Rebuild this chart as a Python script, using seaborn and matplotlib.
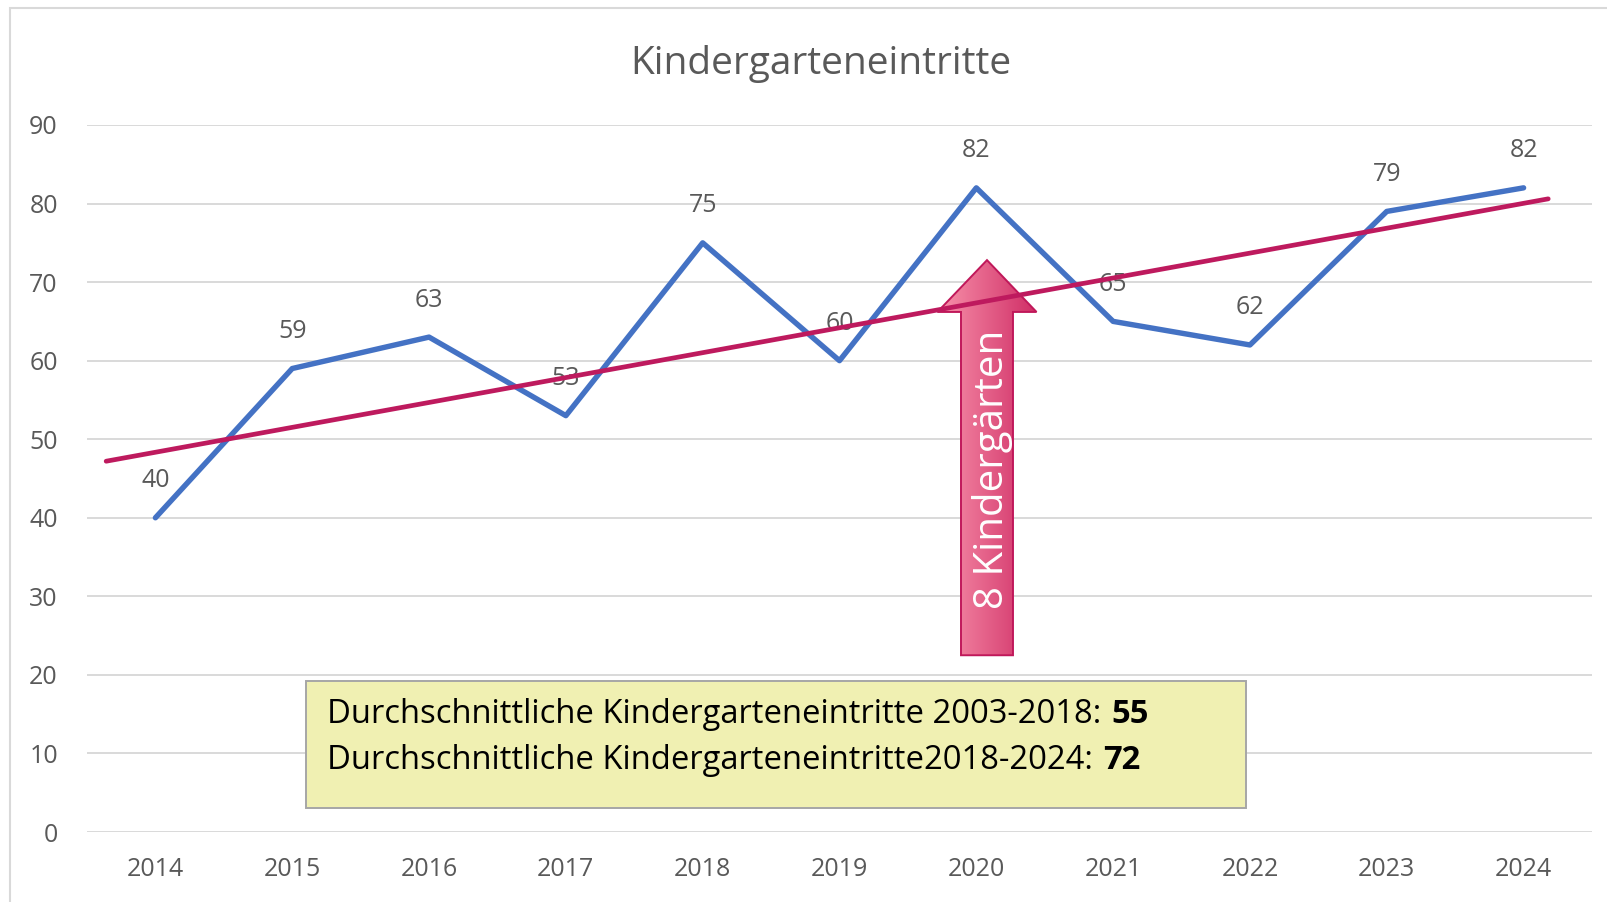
import numpy as np
import matplotlib
matplotlib.use('Agg')
import matplotlib.pyplot as plt
import seaborn as sns
from matplotlib.patches import Polygon, Rectangle
from matplotlib.colors import LinearSegmentedColormap

# Data
years = [2014, 2015, 2016, 2017, 2018, 2019, 2020, 2021, 2022, 2023, 2024]
entries = [40, 59, 63, 53, 75, 60, 82, 65, 62, 79, 82]
# hand drawn trend line (start / end)
trend_x = [2013.64, 2024.18]
trend_y = [47.2, 80.6]
yticks = [0, 10, 20, 30, 40, 50, 60, 70, 80, 90]

title = 'Kindergarteneintritte'
arrow_text = '8 Kindergärten'
box_lines = [('Durchschnittliche Kindergarteneintritte 2003-2018:', '55'),
             ('Durchschnittliche Kindergarteneintritte2018-2024:', '72')]

sns.set_theme(style='white')
plt.rcParams['font.family'] = ['Open Sans', 'DejaVu Sans']

W, H = 1608, 902
fig = plt.figure(figsize=(W / 100, H / 100), dpi=100)
ax = fig.add_axes([87 / W, 1 - 832 / H, (1592 - 87) / W, (832 - 125) / H])

gray = '#595959'

sns.lineplot(x=years, y=entries, ax=ax, color='#4472C4', lw=3.9, zorder=2.5)

for x, v in zip(years, entries):
    ax.annotate(str(v), (x, v), xytext=(0, 22), textcoords='offset points',
                ha='center', va='baseline', fontsize=18, color=gray, zorder=3)

# block arrow with gradient
cx = 2020.078
y_bot, y_hb, y_tip = 22.5, 66.2, 72.8
shaft, head = 0.19, 0.362
pts = [(cx - shaft, y_bot), (cx - shaft, y_hb), (cx - head, y_hb), (cx, y_tip),
       (cx + head, y_hb), (cx + shaft, y_hb), (cx + shaft, y_bot)]
arrow = Polygon(pts, closed=True, facecolor='none', edgecolor='#C0185A', lw=1.4, zorder=4)
ax.add_patch(arrow)
cmap = LinearSegmentedColormap.from_list('arr', ['#F893AB', '#D02D66'])
im = ax.imshow(np.linspace(0, 1, 256).reshape(1, -1), extent=[cx - head, cx + head, y_bot, y_tip],
               aspect='auto', cmap=cmap, zorder=3.9)
im.set_clip_path(arrow)
ax.text(2020.115, 46.1, arrow_text, rotation=90, ha='center', va='center',
        fontsize=29, color='white', zorder=4.5)

# trend line
sns.lineplot(x=trend_x, y=trend_y, ax=ax, color='#BE1A5E', lw=3.4, zorder=5)

ax.set_xlim(2013.5, 2024.5)
ax.set_ylim(0, 90)
ax.set_xticks(years)
ax.set_xticklabels([str(y) for y in years])
ax.set_yticks(yticks)
ax.yaxis.grid(True, color='#D9D9D9', lw=1.4)
ax.set_axisbelow(True)
for s in ax.spines.values():
    s.set_visible(False)
ax.tick_params(axis='x', length=0, pad=18, labelsize=18, labelcolor=gray)
ax.tick_params(axis='y', length=0, pad=21, labelsize=18, labelcolor=gray)
ax.set_xlabel('')
ax.set_ylabel('')

# title
fig.text(821 / W, 1 - 74 / H, title, ha='center', va='baseline', fontsize=28, color=gray)

# chart border
fig.add_artist(Rectangle((10 / W, -0.05), 1.2, 1.05 - 8 / H, transform=fig.transFigure,
                         fill=False, edgecolor='#D9D9D9', lw=1.5))

# info box
fig.add_artist(Rectangle((306 / W, 1 - 808 / H), 940 / W, 127 / H, transform=fig.transFigure,
                         facecolor='#F0F0B2', edgecolor='#A6A6A6', lw=1.4, zorder=2))
fig.canvas.draw()
renderer = fig.canvas.get_renderer()
base = [1 - 723 / H, 1 - 769 / H]
t0 = fig.text(327 / W, base[0], box_lines[0][0], ha='left', va='baseline', fontsize=22,
              color='black', zorder=3)
w0 = t0.get_window_extent(renderer).width
fs = 22 * 773 / w0
t0.set_fontsize(fs)
normal = [t0]
for i, (txt, num) in enumerate(box_lines):
    if i > 0:
        normal.append(fig.text(327 / W, base[i], txt, ha='left', va='baseline', fontsize=fs,
                               color='black', zorder=3))
fig.canvas.draw()
for i, (txt, num) in enumerate(box_lines):
    bb = normal[i].get_window_extent(renderer)
    fig.text((bb.x1 + 0.3 * fs * 100 / 72) / W, base[i], num, ha='left', va='baseline',
             fontsize=fs, fontweight='bold', color='black', zorder=3)

fig.savefig('out.png', dpi=100)
plt.close()
